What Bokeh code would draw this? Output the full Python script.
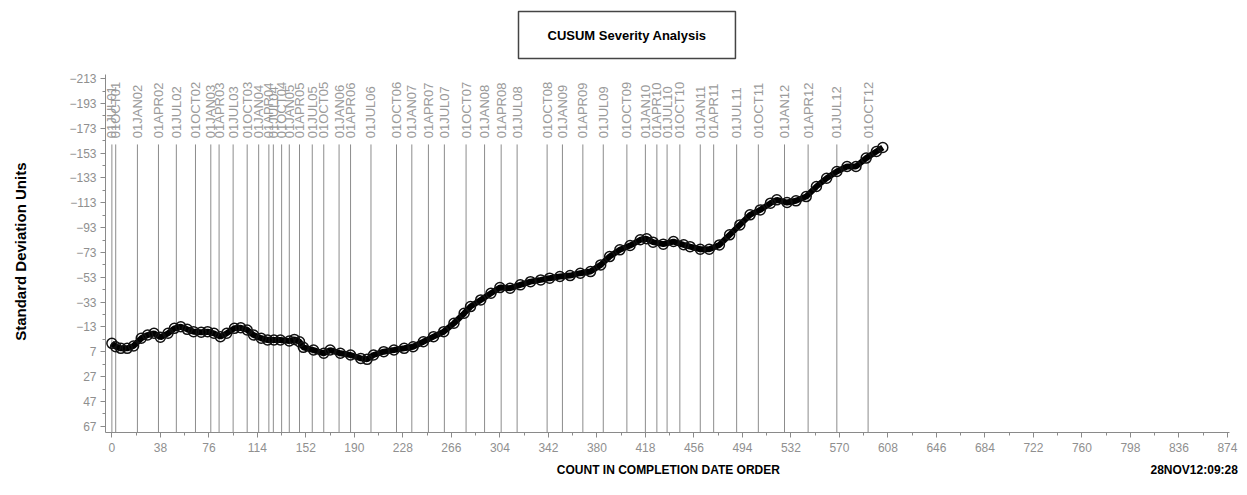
import math
from bokeh.plotting import figure
from bokeh.models import Range1d, FixedTicker, ColumnDataSource, LinearAxis
from bokeh.core.properties import value
from bokeh.embed import file_html
from bokeh.resources import INLINE

# ---- data ----
counts = [0, 3, 7, 12, 17, 23, 28, 33, 38, 44, 49, 54, 59, 64, 70, 75, 80, 85, 90, 96,
          101, 106, 111, 117, 122, 127, 132, 139, 143, 147, 150, 158, 166, 171, 179, 187,
          195, 200, 205, 213, 221, 229, 236, 244, 252, 260, 268, 276, 281, 289, 297, 304,
          312, 320, 328, 336, 343, 351, 359, 367, 375, 383, 390, 398, 406, 414, 419, 424,
          432, 440, 448, 453, 461, 468, 476, 484, 492, 500, 508, 516, 521, 529, 536, 544,
          552, 560, 568, 576, 583, 591, 599, 604]
cusum = [0.2, 2.9, 4.2, 4.2, 2.3, -3.9, -6.5, -7.9, -4.7, -7.9, -11.9, -13.2, -11.1, -9.2,
         -8.7, -9.2, -7.9, -5.2, -7.9, -11.9, -12.4, -10.6, -6.5, -3.9, -2.5, -2.5, -2.5,
         -1.7, -3.0, -1.1, 3.4, 5.6, 8.2, 5.6, 8.2, 9.6, 12.3, 13.1, 9.6, 6.9, 5.6, 4.2, 2.9,
         -1.1, -5.2, -9.2, -16.0, -24.0, -29.4, -34.8, -40.2, -44.7, -44.2, -46.9, -49.5,
         -50.9, -52.3, -53.6, -54.4, -56.3, -57.6, -63.0, -69.7, -75.1, -78.6, -83.2, -84.0,
         -81.3, -79.7, -81.8, -79.2, -77.7, -75.6, -75.6, -79.1, -87.2, -95.2, -103.3,
         -107.3, -112.7, -115.4, -113.2, -114.6, -118.0, -126.1, -132.8, -138.2, -142.2,
         -142.2, -149.0, -154.3, -157.5]

date_labels = ["01JUL01", "01OCT01", "01JAN02", "01APR02", "01JUL02", "01OCT02",
               "01JAN03", "01APR03", "01JUL03", "01OCT03", "01JAN04", "01APR04",
               "01JUL04", "01OCT04", "01JAN05", "01APR05", "01JUL05", "01OCT05",
               "01JAN06", "01APR06", "01JUL06", "01OCT06", "01JAN07", "01APR07",
               "01JUL07", "01OCT07", "01JAN08", "01APR08", "01JUL08", "01OCT08",
               "01JAN09", "01APR09", "01JUL09", "01OCT09", "01JAN10", "01APR10",
               "01JUL10", "01OCT10", "01JAN11", "01APR11", "01JUL11", "01OCT11",
               "01JAN12", "01APR12", "01JUL12", "01OCT12"]
date_counts = [0, 3, 20, 36.5, 50.5, 65.5, 77.5, 84, 95, 106, 115, 123, 126.5, 133, 139,
               147, 157, 166, 178, 187, 203, 223, 235, 248, 260.5, 277.5, 292, 305, 317.5,
               341, 353, 369, 385, 403.5, 418, 427, 435, 445, 461, 471.5, 489.5, 506.5,
               527, 545.5, 568, 592.5]

y_ticks = list(range(-213, 68, 20))
x_ticks = list(range(0, 875, 38))

title_text = "CUSUM Severity Analysis"
x_title = "COUNT IN COMPLETION DATE ORDER"
y_title = "Standard  Deviation  Units"
footer_text = "28NOV12:09:28"

# ---- figure ----
Y_BOTTOM, Y_TOP = 72, -226
p = figure(width=1247, height=494, output_backend="svg", toolbar_location=None,
           x_range=Range1d(-5, 878), y_range=Range1d(Y_BOTTOM, Y_TOP),
           min_border_left=105, min_border_right=15, min_border_top=62,
           min_border_bottom=62)
p.outline_line_color = None
p.xgrid.visible = False
p.ygrid.visible = False

axis_col = "#8a8a8a"
label_col = "#8f8f8f"

# title in a box
p.title.text = title_text
p.title.align = "left"
p.title.offset = 413
p.title.text_font = "Liberation Sans"
p.title.text_font_style = "bold"
p.title.text_font_size = "13px"
p.title.text_color = "black"
p.title.border_line_color = "#444444"
p.title.border_line_width = 1.5
p.title.background_fill_color = "white"
p.title.padding = (29, 16)
p.title.standoff = 8

# main x axis
xa = p.xaxis[0]
xa.ticker = FixedTicker(ticks=x_ticks, minor_ticks=[t + 19 for t in x_ticks[:-1]])
xa.bounds = (-5, 876)
xa.axis_line_color = axis_col
xa.major_tick_line_color = axis_col
xa.minor_tick_line_color = axis_col
xa.major_tick_out = 5
xa.major_tick_in = 0
xa.minor_tick_out = 3
xa.minor_tick_in = 0
xa.major_label_text_color = label_col
xa.major_label_text_font = "Liberation Sans"
xa.major_label_text_font_size = "12px"
xa.major_label_standoff = 5

# second row below the axis: axis title and timestamp
lab_pos = {436: x_title, 848: footer_text}
xb = LinearAxis(ticker=FixedTicker(ticks=list(lab_pos.keys()), minor_ticks=[]),
                major_label_overrides=lab_pos)
xb.axis_line_color = None
xb.major_tick_line_color = None
xb.minor_tick_line_color = None
xb.major_tick_out = 0
xb.major_tick_in = 0
xb.major_label_standoff = 8
xb.major_label_text_font = "Liberation Sans"
xb.major_label_text_font_style = "bold"
xb.major_label_text_font_size = "12px"
xb.major_label_text_color = "black"
p.add_layout(xb, "below")

# y axis
ya = p.yaxis[0]
ya.ticker = FixedTicker(ticks=y_ticks, minor_ticks=[t + 10 for t in y_ticks[:-1]])
ya.bounds = (-216, Y_BOTTOM)
ya.major_label_overrides = {t: (("\u2212" + str(abs(t))) if t < 0 else str(t))
                            for t in y_ticks}
ya.axis_line_color = axis_col
ya.major_tick_line_color = axis_col
ya.minor_tick_line_color = axis_col
ya.major_tick_out = 5
ya.major_tick_in = 0
ya.minor_tick_out = 3
ya.minor_tick_in = 0
ya.major_label_text_color = label_col
ya.major_label_text_font = "Liberation Sans"
ya.major_label_text_font_size = "12px"
ya.major_label_standoff = 4
ya.axis_label = y_title
ya.axis_label_text_font = "Liberation Sans"
ya.axis_label_text_font_style = "bold"
ya.axis_label_text_font_size = "15px"
ya.axis_label_text_color = "black"
ya.axis_label_standoff = 37

# reference lines at quarter boundaries
ref_src = ColumnDataSource(dict(x=date_counts, lab=date_labels,
                                y0=[-160] * len(date_counts),
                                y1=[Y_BOTTOM] * len(date_counts)))
p.segment(x0="x", y0="y0", x1="x", y1="y1", source=ref_src,
          line_color="#8c8c8c", line_width=1)
p.text(x="x", y=-165, text="lab", source=ref_src, angle=math.pi / 2,
       text_align="left", text_baseline="middle", text_color="#9a9a9a",
       text_font=value("Liberation Sans"), text_font_size="13px")

# CUSUM curve
src = ColumnDataSource(dict(x=counts, y=cusum))
p.line("x", "y", source=src, line_color="black", line_width=6)
p.scatter("x", "y", source=src, marker="circle", size=10, fill_color=None,
          line_color="#111111", line_width=1.5)

open("out.html", "w").write(file_html(p, INLINE))
